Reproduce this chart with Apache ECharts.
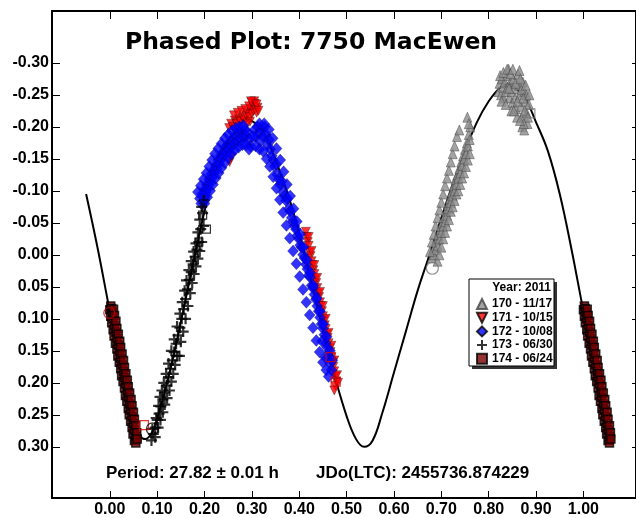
<!DOCTYPE html>
<html>
<head>
<meta charset="utf-8">
<script src="https://cdn.jsdelivr.net/npm/echarts@6/dist/echarts.min.js"></script>
<style>
html,body{margin:0;padding:0;background:#fff;}
#chart{width:636px;height:518px;}
</style>
</head>
<body>
<div id="chart"></div>
<script>
// ---- Data (phase, differential magnitude) ----
const xTicks = [0, 0.1, 0.2, 0.3, 0.4, 0.5, 0.6, 0.7, 0.8, 0.9, 1.0];
const yTicks = [-0.30, -0.25, -0.20, -0.15, -0.10, -0.05, 0, 0.05, 0.10, 0.15, 0.20, 0.25, 0.30];
const seriesNames = ['170 - 11/17', '171 - 10/15', '172 - 10/08', '173 - 06/30', '174 - 06/24'];

const fitCurve = [[-0.05,-0.095],[-0.025,-0.008],[0.0,0.088],[0.025,0.178],[0.05,0.255],[0.065,0.284],[0.075,0.288],[0.09,0.276],[0.1,0.256],[0.125,0.188],[0.15,0.105],[0.175,0.017],[0.2,-0.068],[0.225,-0.135],[0.25,-0.178],[0.275,-0.203],[0.29,-0.21],[0.3,-0.209],[0.325,-0.19],[0.35,-0.148],[0.375,-0.097],[0.4,-0.034],[0.425,0.04],[0.45,0.118],[0.475,0.19],[0.5,0.252],[0.52,0.288],[0.537,0.300],[0.555,0.29],[0.575,0.248],[0.6,0.184],[0.625,0.12],[0.65,0.056],[0.675,0.0],[0.7,-0.058],[0.725,-0.112],[0.75,-0.162],[0.775,-0.207],[0.8,-0.24],[0.825,-0.262],[0.84,-0.266],[0.85,-0.264],[0.875,-0.247],[0.9,-0.207],[0.925,-0.162],[0.95,-0.095],[0.975,-0.008],[1.0,0.088],[1.025,0.178],[1.05,0.255]];

const s170 = [[0.680,0.005],[0.682,-0.005],[0.684,0.000],[0.686,-0.012],[0.688,-0.008],[0.690,-0.022],[0.692,-0.015],[0.694,-0.030],[0.696,-0.025],[0.698,-0.040],[0.700,-0.035],[0.702,-0.050],[0.704,-0.045],[0.706,-0.058],[0.708,-0.052],[0.710,-0.068],[0.712,-0.062],[0.714,-0.078],[0.716,-0.072],[0.718,-0.088],[0.720,-0.082],[0.722,-0.098],[0.724,-0.092],[0.726,-0.108],[0.728,-0.100],[0.730,-0.118],[0.732,-0.110],[0.734,-0.125],[0.736,-0.120],[0.738,-0.135],[0.740,-0.128],[0.742,-0.145],[0.744,-0.140],[0.746,-0.155],[0.748,-0.150],[0.750,-0.165],[0.752,-0.158],[0.754,-0.175],[0.756,-0.170],[0.758,-0.188],[0.760,-0.180],[0.761,-0.200],
[0.676,-0.005],[0.680,-0.020],[0.684,-0.032],[0.688,-0.045],[0.692,-0.058],[0.696,-0.070],[0.700,-0.082],[0.704,-0.095],[0.708,-0.108],[0.712,-0.120],[0.716,-0.132],[0.720,-0.145],[0.724,-0.158],[0.728,-0.170],[0.733,-0.185],[0.738,-0.195],[0.755,-0.215],[0.758,-0.205],
[0.692,0.010],[0.696,0.000],[0.700,-0.012],[0.704,-0.025],[0.708,-0.035],[0.712,-0.045],[0.716,-0.055],[0.720,-0.068],[0.724,-0.075],[0.728,-0.085],[0.732,-0.095],[0.736,-0.100],[0.740,-0.110],[0.744,-0.120],[0.748,-0.128],[0.752,-0.138],[0.756,-0.148],[0.760,-0.158],
[0.821,-0.255],[0.823,-0.268],[0.826,-0.250],[0.828,-0.275],[0.830,-0.262],[0.832,-0.245],[0.834,-0.270],[0.836,-0.255],[0.838,-0.280],[0.840,-0.262],[0.842,-0.290],[0.844,-0.245],[0.846,-0.270],[0.848,-0.255],[0.850,-0.238],[0.852,-0.275],[0.854,-0.260],[0.856,-0.245],[0.858,-0.228],[0.862,-0.282],[0.864,-0.265],[0.866,-0.250],[0.868,-0.232],[0.870,-0.215],[0.872,-0.270],[0.875,-0.255],[0.878,-0.240],[0.880,-0.222],[0.882,-0.205],[0.885,-0.235],[0.871,-0.200],[0.875,-0.195],[0.860,-0.215],[0.848,-0.225],[0.880,-0.250],
[0.824,-0.280],[0.827,-0.240],[0.831,-0.285],[0.836,-0.235],[0.839,-0.290],[0.843,-0.260],[0.846,-0.283],[0.851,-0.290],[0.853,-0.225],[0.857,-0.268],[0.861,-0.240],[0.865,-0.288],[0.867,-0.275],[0.869,-0.258],[0.873,-0.245],[0.876,-0.225],[0.878,-0.265],[0.883,-0.215],[0.886,-0.250],[0.874,-0.205],[0.866,-0.210]];

const s171 = [[0.252,-0.198],[0.256,-0.205],[0.260,-0.200],[0.264,-0.210],[0.268,-0.205],[0.272,-0.212],[0.276,-0.208],[0.280,-0.215],[0.284,-0.210],[0.288,-0.218],[0.292,-0.222],[0.295,-0.215],[0.298,-0.228],[0.300,-0.220],[0.302,-0.232],[0.304,-0.225],[0.306,-0.236],[0.308,-0.228],[0.310,-0.222],[0.312,-0.230],[0.296,-0.208],[0.290,-0.205],[0.253,-0.145],[0.256,-0.152],
[0.262,-0.218],[0.270,-0.222],[0.278,-0.225],[0.286,-0.228],[0.294,-0.232],[0.300,-0.238],[0.305,-0.240],[0.298,-0.240],[0.310,-0.235],[0.314,-0.225],
[0.414,-0.036],[0.416,-0.028],[0.418,-0.020],[0.420,-0.014],[0.422,-0.004],[0.424,0.002],[0.426,0.010],[0.428,0.016],[0.430,0.024],[0.432,0.030],[0.434,0.038],[0.436,0.044],[0.438,0.052],[0.440,0.060],[0.442,0.066],[0.444,0.074],[0.446,0.080],[0.448,0.088],[0.450,0.096],[0.452,0.102],[0.454,0.110],[0.456,0.116],[0.458,0.124],[0.460,0.130],[0.462,0.138],[0.464,0.146],[0.466,0.152],[0.468,0.160],[0.470,0.168],[0.472,0.175],[0.474,0.182],[0.476,0.190],[0.478,0.198],[0.476,0.205],[0.474,0.212],
[0.420,-0.028],[0.426,-0.006],[0.432,0.016],[0.438,0.036],[0.444,0.058],[0.450,0.080],[0.456,0.100],[0.462,0.122],[0.468,0.142],[0.474,0.165],[0.480,0.188],[0.482,0.200]];

const s172 = [[0.190,-0.088],[0.193,-0.080],[0.195,-0.095],[0.198,-0.090],[0.200,-0.102],[0.203,-0.098],[0.205,-0.110],[0.207,-0.104],[0.210,-0.118],[0.212,-0.112],[0.214,-0.126],[0.216,-0.120],[0.219,-0.133],[0.221,-0.128],[0.224,-0.140],[0.226,-0.135],[0.229,-0.148],[0.231,-0.142],[0.234,-0.155],[0.236,-0.150],[0.239,-0.160],[0.241,-0.155],[0.244,-0.168],[0.246,-0.160],[0.249,-0.172],[0.252,-0.165],[0.255,-0.178],[0.258,-0.170],[0.261,-0.182],[0.264,-0.175],[0.267,-0.186],[0.270,-0.178],[0.273,-0.190],[0.276,-0.182],[0.279,-0.192],[0.282,-0.185],[0.285,-0.195],[0.288,-0.186],[0.291,-0.192],[0.294,-0.180],[0.297,-0.170],
[0.186,-0.098],[0.192,-0.108],[0.198,-0.118],[0.204,-0.128],[0.210,-0.138],[0.216,-0.148],[0.222,-0.158],[0.229,-0.166],[0.236,-0.174],[0.243,-0.182],[0.250,-0.188],[0.258,-0.194],[0.266,-0.198],[0.274,-0.200],[0.282,-0.202],
[0.200,-0.080],[0.206,-0.090],[0.212,-0.100],[0.218,-0.110],[0.224,-0.120],[0.230,-0.128],[0.236,-0.136],[0.243,-0.144],[0.250,-0.152],[0.257,-0.158],[0.264,-0.164],[0.272,-0.168],[0.280,-0.172],[0.288,-0.172],[0.294,-0.165],
[0.305,-0.195],[0.308,-0.185],[0.312,-0.200],[0.315,-0.190],[0.318,-0.178],[0.321,-0.195],[0.324,-0.185],[0.327,-0.200],[0.330,-0.188],[0.333,-0.172],[0.336,-0.180],[0.339,-0.165],[0.342,-0.155],[0.345,-0.148],[0.348,-0.138],[0.351,-0.142],[0.354,-0.125],[0.357,-0.118],[0.360,-0.110],[0.363,-0.115],[0.366,-0.098],[0.369,-0.092],[0.372,-0.085],[0.375,-0.088],[0.378,-0.072],[0.381,-0.068],[0.384,-0.058],[0.387,-0.052],[0.390,-0.045],[0.393,-0.040],[0.396,-0.030],[0.399,-0.025],[0.402,-0.015],[0.405,-0.012],[0.408,0.000],[0.411,0.005],[0.414,0.015],[0.417,0.022],[0.420,0.032],[0.423,0.035],[0.426,0.048],[0.429,0.052],[0.432,0.062],[0.435,0.070],[0.438,0.080],[0.441,0.088],[0.444,0.098],[0.447,0.108],[0.450,0.115],[0.453,0.125],[0.456,0.138],[0.459,0.145],[0.462,0.158],[0.465,0.170],[0.468,0.180],[0.455,0.160],[0.448,0.135],
[0.316,-0.205],[0.326,-0.205],[0.336,-0.196],[0.344,-0.182],[0.352,-0.166],[0.360,-0.148],[0.367,-0.130],[0.374,-0.110],[0.381,-0.092],[0.388,-0.072],[0.395,-0.052],[0.402,-0.032],[0.409,-0.012],[0.416,0.008],[0.423,0.028],[0.430,0.048],[0.437,0.068],[0.444,0.088],[0.451,0.108],[0.458,0.128],[0.465,0.150],[0.470,0.165],
[0.302,-0.185],[0.308,-0.170],[0.316,-0.165],[0.324,-0.162],[0.331,-0.150],[0.338,-0.138],[0.345,-0.122],[0.352,-0.104],[0.359,-0.086],[0.366,-0.066],[0.373,-0.046],[0.380,-0.026],[0.387,-0.006],[0.394,0.014],[0.401,0.034],[0.408,0.054],[0.415,0.074],[0.422,0.094],[0.429,0.114],[0.436,0.134],[0.443,0.152],[0.450,0.168],[0.457,0.180],[0.462,0.190]];

const s173 = [[0.088,0.290],[0.092,0.280],[0.096,0.270],[0.100,0.258],[0.104,0.248],[0.108,0.237],[0.112,0.226],[0.116,0.215],[0.120,0.204],[0.124,0.191],[0.128,0.178],[0.132,0.165],[0.136,0.152],[0.140,0.139],[0.144,0.126],[0.148,0.114],[0.152,0.100],[0.156,0.085],[0.160,0.069],[0.164,0.054],[0.168,0.039],[0.172,0.027],[0.176,0.015],[0.180,0.003],[0.184,-0.008],[0.188,-0.020],[0.192,-0.040],[0.196,-0.065],[0.199,-0.085],
[0.090,0.272],[0.098,0.255],[0.103,0.236],[0.106,0.222],[0.110,0.212],[0.114,0.200],[0.119,0.186],[0.124,0.170],[0.130,0.150],[0.136,0.132],[0.142,0.112],[0.148,0.092],[0.153,0.074],[0.158,0.056],[0.162,0.040],[0.167,0.024],[0.172,0.010],[0.177,-0.005],[0.182,-0.018],[0.186,-0.035],[0.190,-0.055],[0.194,-0.075],
[0.096,0.285],[0.102,0.270],[0.107,0.258],[0.112,0.246],[0.116,0.234],[0.121,0.224],[0.126,0.212],[0.130,0.198],[0.134,0.186],[0.138,0.172],[0.142,0.158],[0.147,0.158],[0.150,0.136],[0.155,0.120],[0.160,0.100],[0.165,0.080],[0.170,0.060],[0.174,0.044],[0.178,0.030],[0.182,0.018],[0.186,0.006],[0.190,-0.006],[0.194,-0.020],[0.198,-0.045]];

const s174 = [[0.000,0.086],[0.002,0.080],[0.004,0.084],
[0.002,0.096],[0.005,0.090],[0.008,0.085],
[0.004,0.106],[0.007,0.100],[0.010,0.095],
[0.007,0.117],[0.010,0.111],[0.013,0.104],
[0.009,0.127],[0.013,0.121],[0.015,0.115],
[0.012,0.138],[0.015,0.131],[0.018,0.124],
[0.015,0.147],[0.018,0.141],[0.021,0.135],
[0.017,0.158],[0.021,0.151],[0.023,0.145],
[0.020,0.168],[0.023,0.162],[0.026,0.155],
[0.023,0.178],[0.026,0.172],[0.029,0.165],
[0.025,0.189],[0.029,0.182],[0.031,0.176],
[0.028,0.198],[0.031,0.192],[0.034,0.186],
[0.031,0.208],[0.034,0.202],[0.037,0.196],
[0.033,0.220],[0.037,0.213],[0.039,0.206],
[0.036,0.229],[0.039,0.223],[0.042,0.216],
[0.039,0.240],[0.042,0.233],[0.045,0.226],
[0.041,0.250],[0.044,0.243],[0.047,0.236],
[0.044,0.260],[0.047,0.253],[0.050,0.246],
[0.047,0.270],[0.050,0.264],[0.052,0.257],
[0.049,0.280],[0.052,0.274],[0.055,0.267],
[0.052,0.290],[0.055,0.284],[0.057,0.278],
[0.055,0.294],[0.058,0.288]];

// session start/end markers (open symbols)
const openRedCircle = [[-0.001,0.091]];
const openRedSquare = [[0.072,0.266],[0.477,0.198],[0.466,0.160]];
const openBlackCircle = [[0.090,0.272]];
const openBlackSquare = [[0.196,-0.062],[0.204,-0.040],[0.188,-0.020]];
const openBlueCircle = [[0.200,-0.090]];
const openGrayCircle = [[0.681,0.021]];
const openGraySquare = [[0.888,-0.221]];

// ---- Chart ----
const FONT = 'Liberation Sans';
const PLUS = 'path://M4,0H6V4H10V6H6V10H4V6H0V4H4Z';
const DOWN_TRI = 'path://M0,0L10,0L5,10Z';
const xMin = -0.122, xMax = 1.111, yMin = -0.381, yMax = 0.380;

function axisBase(extra) {
  return Object.assign({
    type: 'value',
    splitLine: { show: false },
    axisLine: { show: true, onZero: false, lineStyle: { color: '#000', width: 2 } },
  }, extra);
}
const labelStyle = { color: '#000', fontFamily: FONT, fontWeight: 'bold', fontSize: 16 };

function openSeries(data, symbol, color, size) {
  return {
    type: 'scatter', name: 'open', data: data, symbol: symbol, symbolSize: size,
    itemStyle: { color: 'rgba(0,0,0,0)', borderColor: color, borderWidth: 1.2 },
    z: 6, silent: true
  };
}

const chart = echarts.init(document.getElementById('chart'), null, { renderer: 'canvas' });
chart.setOption({
  animation: false,
  backgroundColor: '#fff',
  grid: { left: 52, top: 11, right: -2, bottom: 20, containLabel: false },
  xAxis: [
    axisBase({ min: xMin, max: xMax, position: 'bottom',
      axisTick: { show: true, inside: true, length: 7, customValues: xTicks, lineStyle: { color: '#000', width: 1 } },
      axisLabel: Object.assign({ customValues: xTicks, margin: 4, formatter: v => v.toFixed(2) }, labelStyle) }),
    axisBase({ min: xMin, max: xMax, position: 'top',
      axisTick: { show: true, inside: true, length: 8, customValues: xTicks, lineStyle: { color: '#000', width: 1 } },
      axisLabel: { show: false } })
  ],
  yAxis: [
    axisBase({ min: yMin, max: yMax, inverse: true, position: 'left',
      axisTick: { show: true, inside: true, length: 8, customValues: yTicks, lineStyle: { color: '#000', width: 1 } },
      axisLabel: Object.assign({ customValues: yTicks, margin: 3, formatter: v => v.toFixed(2) }, labelStyle) }),
    axisBase({ min: yMin, max: yMax, inverse: true, position: 'right',
      axisTick: { show: true, inside: true, length: 4, customValues: yTicks, lineStyle: { color: '#000', width: 1 } },
      axisLabel: { show: false } })
  ],
  legend: {
    data: seriesNames,
    orient: 'vertical',
    left: 476, top: 298,
    itemWidth: 10, itemHeight: 10, itemGap: 1.7,
    padding: 0,
    textStyle: { color: '#000', fontFamily: FONT, fontWeight: 'bold', fontSize: 12 },
    selectedMode: false
  },
  graphic: [
    { type: 'rect', z: 3, shape: { x: 472, y: 282, width: 85, height: 87 }, style: { fill: '#333' } },
    { type: 'rect', z: 3, shape: { x: 469, y: 279, width: 85, height: 87 }, style: { fill: '#fff', stroke: '#000', lineWidth: 1 } },
    { type: 'text', z: 5, x: 551, y: 288, style: { text: 'Year: 2011', fill: '#000', font: 'bold 12px "Liberation Sans"', align: 'right', verticalAlign: 'middle' } },
    { type: 'text', z: 5, x: 311, y: 43, style: { text: 'Phased Plot: 7750 MacEwen', fill: '#000', font: 'bold 23.5px "DejaVu Sans"', align: 'center', verticalAlign: 'middle' } },
    { type: 'text', z: 5, x: 106, y: 473, style: { text: 'Period: 27.82 \u00b1 0.01 h', fill: '#000', font: 'bold 17px "Liberation Sans"', align: 'left', verticalAlign: 'middle' } },
    { type: 'text', z: 5, x: 316, y: 473, style: { text: 'JDo(LTC): 2455736.874229', fill: '#000', font: 'bold 17px "Liberation Sans"', align: 'left', verticalAlign: 'middle' } }
  ],
  series: [
    { type: 'line', name: 'fit', data: fitCurve, smooth: 0.4, showSymbol: false, symbol: 'none',
      lineStyle: { color: '#000', width: 2 }, z: 1, silent: true },
    { type: 'scatter', name: seriesNames[0], data: s170, symbol: 'triangle', symbolSize: [9, 10],
      itemStyle: { color: '#8c8c8c', borderColor: '#444', borderWidth: 0.6 }, z: 2 },
    { type: 'scatter', name: seriesNames[1], data: s171, symbol: DOWN_TRI, symbolSize: [9, 9],
      itemStyle: { color: '#ff0000', borderColor: '#000', borderWidth: 0.4 }, z: 2 },
    { type: 'scatter', name: seriesNames[2], data: s172, symbol: 'diamond', symbolSize: [11, 12],
      itemStyle: { color: '#0000ff', borderColor: '#000', borderWidth: 0.3 }, z: 2 },
    { type: 'scatter', name: seriesNames[3], data: s173, symbol: PLUS, symbolSize: [11, 11],
      itemStyle: { color: '#000' }, z: 2 },
    { type: 'scatter', name: seriesNames[4], data: s174.concat(s174.map(d => [d[0] + 1, d[1]])), symbol: 'rect', symbolSize: [8, 8],
      itemStyle: { color: '#7a0000', borderColor: '#000', borderWidth: 1.5 }, z: 2 },
    openSeries(openRedCircle, 'circle', '#c00000', 11),
    openSeries(openRedSquare, 'rect', '#e00000', 9),
    openSeries(openBlackCircle, 'circle', '#000', 12),
    openSeries(openBlackSquare, 'rect', '#000', 8),
    openSeries(openBlueCircle, 'circle', '#0000ff', 10),
    openSeries(openGrayCircle, 'circle', '#777', 12),
    openSeries(openGraySquare, 'rect', '#777', 9)
  ]
});
</script>
</body>
</html>
